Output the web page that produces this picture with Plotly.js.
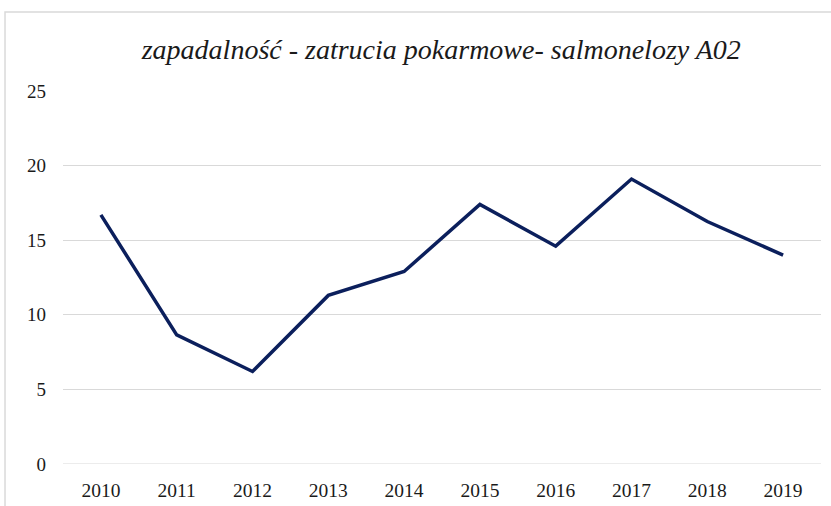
<!DOCTYPE html>
<html>
<head>
<meta charset="utf-8">
<script src="https://cdn.plot.ly/plotly-3.0.1.min.js"></script>
<style>
  html, body { margin: 0; padding: 0; background: #fff; }
  #myDiv { width: 831px; height: 506px; }
</style>
</head>
<body>
<div id="myDiv"></div>
<script>
// lata i zapadalnosc
var years = ['2010', '2011', '2012', '2013', '2014', '2015', '2016', '2017', '2018', '2019'];
var incidence = [16.7, 8.65, 6.2, 11.3, 12.9, 17.4, 14.6, 19.1, 16.25, 14.0];
var yTicks = [0, 5, 10, 15, 20, 25];

var serif = 'Liberation Serif';

var trace1 = {
  x: years,
  y: incidence,
  type: 'scatter',
  mode: 'lines',
  line: { color: '#0b1f5c', width: 3.5 },
  hoverinfo: 'x+y'
};

var layout = {
  width: 831,
  height: 506,
  margin: { l: 63, r: 10, t: 91, b: 42 },
  paper_bgcolor: '#fff',
  plot_bgcolor: '#fff',
  showlegend: false,
  font: { family: serif, color: '#1a1a1a', size: 19 },
  title: {
    text: 'zapadalność - zatrucia pokarmowe- salmonelozy A02',
    font: { family: serif, size: 28, color: '#1a1a1a', style: 'italic' },
    x: 0.531, xanchor: 'center',
    y: 0.903, yanchor: 'middle'
  },
  xaxis: {
    type: 'category',
    showgrid: false,
    zeroline: false,
    showline: false,
    ticks: '',
    ticklabelstandoff: 12,
    tickfont: { family: serif, size: 19.5, color: '#1a1a1a' },
    range: [-0.5, 9.5]
  },
  yaxis: {
    range: [0, 25],
    tickvals: yTicks,
    showgrid: true,
    gridcolor: '#d9d9d9',
    gridwidth: 1,
    zeroline: false,
    showline: false,
    ticks: '',
    ticklabelstandoff: 16,
    tickfont: { family: serif, size: 19, color: '#1a1a1a' }
  },
  shapes: [{
    type: 'rect',
    xref: 'paper', yref: 'paper',
    x0: -0.0765, x1: 1.03, y0: -0.3, y1: 1.212,
    line: { color: '#d9d9d9', width: 1.5 },
    fillcolor: 'rgba(0,0,0,0)'
  }, {
    // linia osi 0 tego samego koloru co siatka
    type: 'line', xref: 'paper', yref: 'y',
    x0: 0, x1: 1, y0: 0, y1: 0,
    line: { color: '#d9d9d9', width: 1 }
  }]
};

Plotly.newPlot('myDiv', [trace1], layout, { displayModeBar: false, staticPlot: true });
</script>
</body>
</html>
